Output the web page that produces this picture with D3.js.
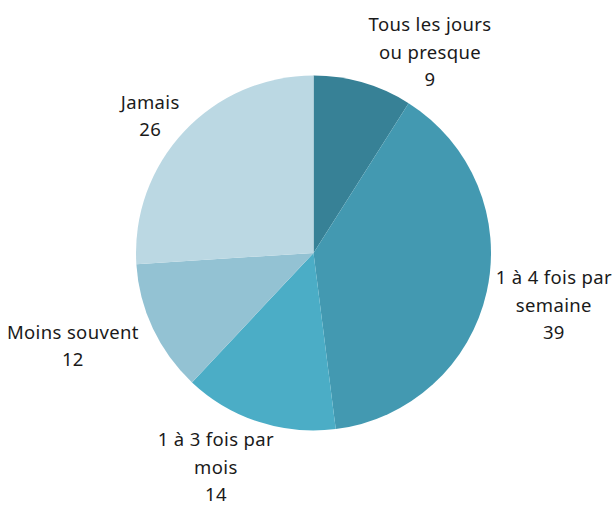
<!DOCTYPE html>
<html>
<head>
<meta charset="utf-8">
<script src="https://cdn.jsdelivr.net/npm/d3@7"></script>
<style>
  html, body { margin: 0; padding: 0; background: #fff; }
  text { font-family: "Noto Sans", "Open Sans", sans-serif; font-size: 18.5px; letter-spacing: 0.35px; fill: #1a1a1a; }
</style>
</head>
<body>
<div id="chart"></div>
<script>
var categories = ['Tous les jours ou presque', '1 à 4 fois par semaine', '1 à 3 fois par mois', 'Moins souvent', 'Jamais']
var labelLines = [['Tous les jours', 'ou presque'], ['1 à 4 fois par', 'semaine'], ['1 à 3 fois par', 'mois'], ['Moins souvent'], ['Jamais']]
var values = [9, 39, 14, 12, 26]
var colors = ['#378196', '#4399b1', '#4badc6', '#93c2d3', '#bbd8e3']

// label nudges from the default centroid spot (px)
var nudges = [[51, 25], [11, 1], [-25, -9], [-28, -7], [8, 24]]

var width = 613, height = 505
var cx = 313.5, cy = 253, r = 177.5
var lineH = 27.5

var svg = d3.select('#chart').append('svg')
  .attr('width', width)
  .attr('height', height)

var g = svg.append('g').attr('transform', 'translate(' + cx + ',' + cy + ')')

var pie = d3.pie().sort(null).value(function(d){ return d })
var arcs = pie(values)

var arc = d3.arc().innerRadius(0).outerRadius(r)
var labelArc = d3.arc().innerRadius(235).outerRadius(235)

g.selectAll('path')
  .data(arcs)
  .enter()
  .append('path')
  .attr('d', arc)
  .attr('fill', function(d, i){ return colors[i] })

var labels = g.selectAll('text.lbl')
  .data(arcs)
  .enter()
  .append('text')
  .attr('class', 'lbl')
  .attr('text-anchor', 'middle')
  .attr('transform', function(d, i){
    var c = labelArc.centroid(d)
    return 'translate(' + (c[0] + nudges[i][0]) + ',' + (c[1] + nudges[i][1]) + ')'
  })

labels.each(function(d, i){
  var lines = labelLines[i].concat([String(values[i])])
  var n = lines.length
  d3.select(this).selectAll('tspan')
    .data(lines)
    .enter()
    .append('tspan')
    .attr('x', 0)
    .attr('y', function(t, j){ return (j - (n - 1) / 2) * lineH })
    .attr('dy', '0.35em')
    .text(function(t){ return t })
})
</script>
</body>
</html>
